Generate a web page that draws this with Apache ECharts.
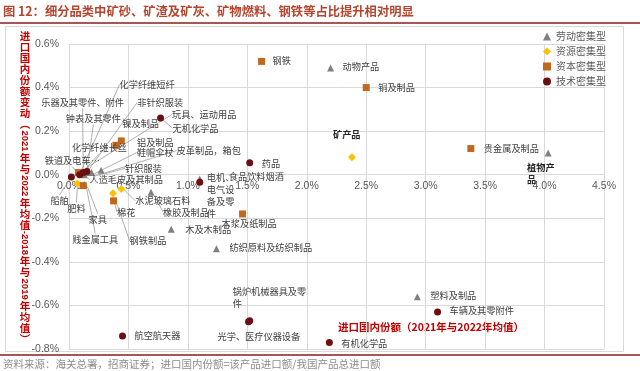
<!DOCTYPE html>
<html><head><meta charset="utf-8">
<script src="https://cdn.jsdelivr.net/npm/echarts@6/dist/echarts.min.js"></script>
<style>html,body{margin:0;padding:0;background:#fff}#c{width:640px;height:371px}</style>
</head><body><div id="c"></div>
<script>
// ---------------- data ----------------
const xTicks = [0, 0.5, 1.0, 1.5, 2.0, 2.5, 3.0, 3.5, 4.0, 4.5];
const yTicks = [-0.8, -0.6, -0.4, -0.2, 0.0, 0.2, 0.4, 0.6];
const legendNames = ['劳动密集型', '资源密集型', '资本密集型', '技术密集型'];

const laborNames = ['动物产品','植物产品','塑料及制品','纺织原料及纺织制品','木及木制品','橡胶及制品','针织服装','非针织服装','鞋帽伞杖','皮革制品，箱包','玩具、运动用品','家具','人造毛皮及其制品','食品饮料烟酒'];
const laborX = [2.20, 4.03, 2.93, 1.24, 0.86, 0.69, 0.27, 0.17, 0.15, 0.19, 0.16, 0.13, 0.13, 1.10];
const laborY = [0.49, 0.10, -0.56, -0.34, -0.25, -0.08, 0.02, 0.01, 0.01, 0.01, 0.02, -0.045, 0.0, -0.02];

const resourceNames = ['矿产品','棉花','水泥玻璃石料','肥料'];
const resourceX = [2.38, 0.37, 0.44, 0.07];
const resourceY = [0.08, -0.085, -0.065, -0.04];

const capitalNames = ['钢铁','铜及制品','贵金属及制品','木浆及纸制品','镍及制品','铝及制品','化学纤维长丝','化学纤维短纤','贱金属工具','钢铁制品'];
const capitalX = [1.62, 2.50, 3.38, 1.46, 0.44, 0.395, 0.10, 0.08, 0.12, 0.375];
const capitalY = [0.52, 0.40, 0.12, -0.18, 0.155, 0.135, 0.005, 0.01, -0.05, -0.12];

const techNames = ['船舶','铁道及电车…','乐器及其零件、附件','钟表及其零件','无机化学品','电机、电气设备及零件','药品','锅炉机械器具及零件','光学、医疗仪器设备','有机化学品','车辆及其零附件','航空航天器'];
const techX = [0.02, 0.09, 0.12, 0.15, 0.77, 1.10, 1.52, 1.52, 1.51, 2.19, 3.10, 0.45];
const techY = [-0.01, 0.0, 0.01, 0.015, 0.26, -0.035, 0.055, -0.67, -0.675, -0.77, -0.63, -0.74];

// ---------------- label layout (pixel offsets from the marker) ----------------
const labelOffsets = {
 '动物产品':[12,-1], '植物产品':[-21,21], '塑料及制品':[13,-1], '纺织原料及纺织制品':[13,-1], '木及木制品':[14,0],
 '橡胶及制品':[12,20], '针织服装':[24,-2], '非针织服装':[48,-70], '鞋帽伞杖':[50,-20], '皮革制品，箱包':[85,-22],
 '玩具、运动用品':[84,-56], '家具':[4,35], '人造毛皮及其制品':[5,5], '食品饮料烟酒':[29,-3],
 '矿产品':[-19,-23], '棉花':[4,19], '水泥玻璃石料':[14,12], '肥料':[-10,25],
 '钢铁':[11,-1], '铜及制品':[12,0], '贵金属及制品':[13,0], '木浆及纸制品':[-21,10], '镍及制品':[1,-17],
 '铝及制品':[21,-3], '化学纤维长丝':[-9,-26], '化学纤维短纤':[41,-88], '贱金属工具':[-11,54], '钢铁制品':[16,40],
 '船舶':[-21,24], '铁道及电车…':[-35,-14], '乐器及其零件、附件':[-42,-70], '钟表及其零件':[-21,-53], '无机化学品':[12,10],
 '电机、电气设备及零件':[7,13], '药品':[12,1], '锅炉机械器具及零件':[-17,-23], '光学、医疗仪器设备':[-31,15],
 '有机化学品':[12,1], '车辆及其零附件':[12,-1], '航空航天器':[12,0]
};
const leaders = new Set(['橡胶及制品','针织服装','非针织服装','鞋帽伞杖','皮革制品，箱包','玩具、运动用品','家具','人造毛皮及其制品',
 '棉花','水泥玻璃石料','肥料','化学纤维长丝','化学纤维短纤','贱金属工具','钢铁制品','船舶','铁道及电车…','乐器及其零件、附件','钟表及其零件','无机化学品']);
const boldLabels = new Set(['矿产品','植物产品']);
const wrapAt = {'植物产品':3, '电机、电气设备及零件':3, '锅炉机械器具及零件':8};

function wrap(n){ const k = wrapAt[n]; if(!k) return n; let out=''; for(let i=0;i<n.length;i+=k){ out += (i?'\n':'') + n.slice(i,i+k);} return out; }
function mk(names, xs, ys){
  return names.map((n,i)=>{
    const d = {name:n, value:[xs[i], ys[i]], labelLine:{show: leaders.has(n)}};
    if (boldLabels.has(n)) d.label = {fontWeight:'bold', color:'#262626'};
    return d;
  });
}
const groups = [laborNames, resourceNames, capitalNames, techNames];

const CJK = '"Noto Sans CJK SC", sans-serif';
const LAT = '"Liberation Sans", Arial, sans-serif';

function seriesOf(i, names, xs, ys, symbol, size, color){
  return {
    name: legendNames[i], type:'scatter', symbol: symbol, symbolSize: size,
    itemStyle:{color: color, opacity:1},
    data: mk(names, xs, ys),
    label:{show:true, formatter: p => wrap(p.name), fontSize:9.2, lineHeight:12, color:'#404040', fontFamily: CJK},
    labelLine:{show:false, lineStyle:{color:'#8c8c8c', width:0.7}},
    labelLayout: function(p){
      const nm = groups[p.seriesIndex][p.dataIndex];
      const o = labelOffsets[nm] || [10,0];
      const cx = p.rect.x + p.rect.width/2, cy = p.rect.y + p.rect.height/2;
      return {x: cx + o[0], y: cy + o[1], align:'left', verticalAlign:'middle'};
    },
    emphasis:{disabled:true}
  };
}

// vertical y-axis title
function verticalText(str, cx, y0, step, cjkFont, latFont, color){
  const ctx = document.createElement('canvas').getContext('2d');
  ctx.font = latFont;
  const toks = str.match(/[\x00-\x7f]+|[^\x00-\x7f]/g);
  const els = []; let y = y0;
  toks.forEach(t=>{
    if (/^[\x00-\x7f]+$/.test(t)) {
      const w = ctx.measureText(t).width;
      els.push({type:'text', x:cx, y:y+0.5, rotation:-Math.PI/2, silent:true,
        style:{text:t, font:latFont, fill:color, align:'left', verticalAlign:'middle', textAlign:'left', textVerticalAlign:'middle'}});
      y += w + 1.5;
    } else {
      els.push({type:'text', x:cx, y:y, silent:true,
        style:{text:t, font:cjkFont, fill:color, align:'center', verticalAlign:'top', textAlign:'center', textVerticalAlign:'top'}});
      y += step;
    }
  });
  return els;
}

const titleText = '图 12：细分品类中矿砂、矿渣及矿灰、矿物燃料、钢铁等占比提升相对明显';
const yName = '进口国内份额变动︵2021年与2022年均值-2018年与2019年均值︶';
const xName = '进口国内份额（2021年与2022年均值）';
const sourceText = '资料来源：海关总署，招商证券；进口国内份额=该产品进口额/我国产品总进口额';

const GRID = {left:69, right:36, top:44, bottom:22};
const plotH = 371 - GRID.top - GRID.bottom;
const zeroFromBottom = plotH * (0 - yTicks[0]) / (yTicks[yTicks.length-1] - yTicks[0]);

const chart = echarts.init(document.getElementById('c'), null, {renderer:'canvas'});
const graphics = [
  {type:'rect', silent:true, z:-10, shape:{x:5.5, y:26.5, width:618, height:325}, style:{fill:null, stroke:'#d9d9d9', lineWidth:1}},
  {type:'text', x:3, y:11, silent:true, style:{text:titleText, font:'bold 12.3px '+CJK, fill:'#b5452f', align:'left', verticalAlign:'middle', textAlign:'left', textVerticalAlign:'middle'}},
  {type:'line', silent:true, shape:{x1:0, y1:23, x2:640, y2:23}, style:{stroke:'#8e1b1b', lineWidth:1.5}},
  {type:'line', silent:true, shape:{x1:0, y1:355, x2:640, y2:355}, style:{stroke:'#8e1b1b', lineWidth:1.5}},
  {type:'text', x:3, y:364, silent:true, style:{text:sourceText, font:'10.5px '+CJK, fill:'#8c8c8c', align:'left', verticalAlign:'middle', textAlign:'left', textVerticalAlign:'middle'}},
  {type:'text', x:338, y:327, silent:true, style:{text:xName, font:'bold 10.5px '+CJK, fill:'#c00000', align:'left', verticalAlign:'middle', textAlign:'left', textVerticalAlign:'middle'}}
].concat(verticalText(yName, 25, 31, 11, 'bold 10.5px '+CJK, 'bold 9.5px '+LAT, '#c00000'));

chart.setOption({
  animation:false,
  backgroundColor:'#fff',
  grid: GRID,
  legend:{
    orient:'vertical', left:538, top:26, itemWidth:8, itemHeight:8, itemGap:4,
    data: legendNames,
    textStyle:{fontSize:10, color:'#595959', fontFamily:CJK, lineHeight:11}
  },
  xAxis:{
    type:'value', min:xTicks[0], max:xTicks[xTicks.length-1], interval:0.5,
    position:'bottom', offset: -zeroFromBottom,
    axisLine:{show:true, onZero:false, lineStyle:{color:'#d9d9d9'}},
    axisTick:{show:false},
    axisLabel:{margin:6, color:'#595959', fontSize:10.5, fontFamily:LAT, formatter: v => v.toFixed(1)+'%'},
    splitLine:{show:true, lineStyle:{color:'#d9d9d9', width:1}}
  },
  yAxis:{
    type:'value', min:yTicks[0], max:yTicks[yTicks.length-1], interval:0.2,
    axisLine:{show:false, onZero:false},
    axisTick:{show:false},
    axisLabel:{margin:10, color:'#595959', fontSize:10.5, fontFamily:LAT, formatter: v => v.toFixed(1)+'%'},
    splitLine:{show:true, lineStyle:{color:'#d9d9d9', width:1}}
  },
  graphic: graphics,
  series:[
    seriesOf(0, laborNames, laborX, laborY, 'triangle', 7, '#7f7f7f'),
    seriesOf(1, resourceNames, resourceX, resourceY, 'diamond', 8, '#ffc000'),
    seriesOf(2, capitalNames, capitalX, capitalY, 'rect', 7, '#c0691e'),
    seriesOf(3, techNames, techX, techY, 'circle', 7, '#6b0f0f')
  ]
});
</script></body></html>
